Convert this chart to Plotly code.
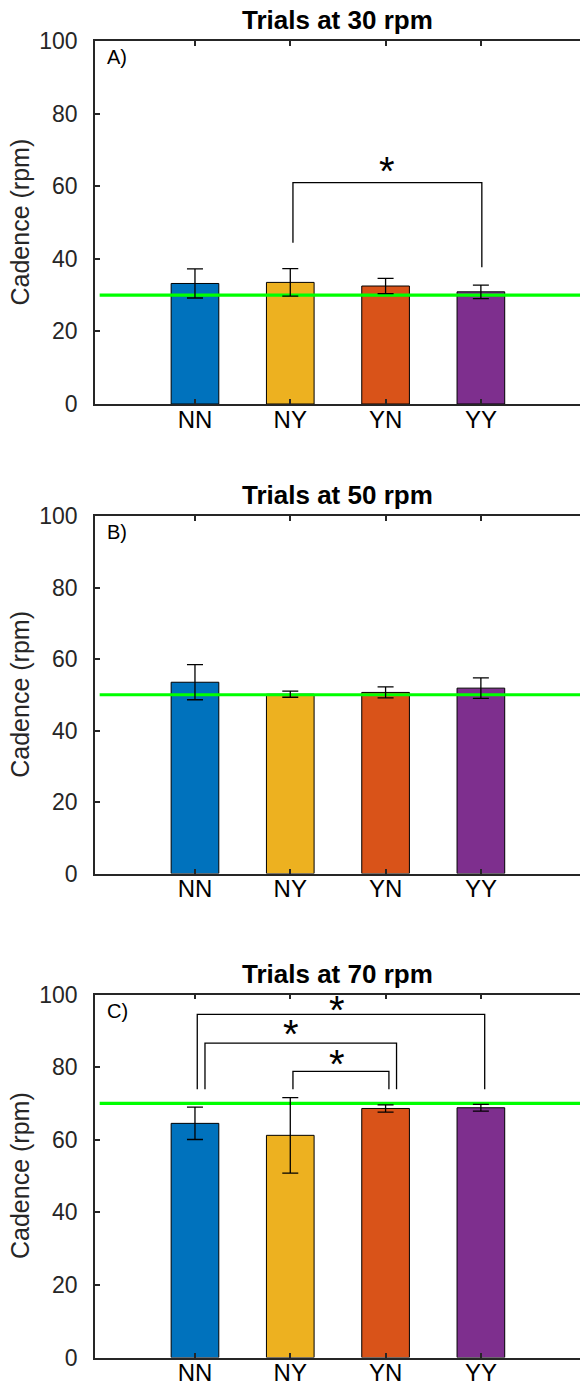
import plotly.graph_objects as go

# ---------------- data ----------------
categories = ["NN", "NY", "YN", "YY"]
bar_colors = ["#0072BD", "#EDB120", "#D95319", "#7E2F8E"]
panel_titles = ["Trials at 30 rpm", "Trials at 50 rpm", "Trials at 70 rpm"]
panel_letters = ["A)", "B)", "C)"]
target_rpm = [30, 50, 70]

means_30 = [33.2, 33.5, 32.5, 30.9]
sd_30 = [4.0, 3.8, 2.1, 1.85]
means_50 = [53.5, 50.15, 50.65, 51.85]
sd_50 = [4.9, 0.85, 1.55, 2.85]
means_70 = [64.5, 61.2, 68.6, 68.8]
sd_70 = [4.45, 10.4, 1.0, 0.95]

# significance brackets (panel index, leg x positions, bar height, leg ends, star position)
sig_panel = [0, 2, 2, 2]
sig_x_left = [2.028, 1.024, 1.105, 2.028]
sig_x_right = [4.01, 4.04, 3.115, 3.035]
sig_y_bar = [61.0, 94.5, 86.6, 78.8]
sig_y_left_end = [44.4, 73.9, 73.9, 73.9]
sig_y_right_end = [37.7, 73.9, 73.9, 73.9]
sig_star_x = [3.01, 2.49, 2.01, 2.49]
sig_star_y = [65.8, 97.3, 90.8, 82.5]

y_ticks = [0, 20, 40, 60, 80, 100]

means = [means_30, means_50, means_70]
sds = [sd_30, sd_50, sd_70]

# ---------------- layout geometry ----------------
W, H = 580, 1387
panel_px = [(41, 404), (516, 873.5), (994.5, 1357.5)]  # top, bottom in px
x_left_px = 95
positions = list(range(1, len(categories) + 1))
x_range = [-0.049, 5.04]

FONT = "Liberation Sans, Arial, sans-serif"
AX = "#262626"

fig = go.Figure()

for p in range(3):
    xa = "x" if p == 0 else f"x{p+1}"
    ya = "y" if p == 0 else f"y{p+1}"
    fig.add_trace(go.Bar(
        x=positions, y=means[p], width=0.5,
        marker=dict(color=bar_colors, line=dict(color="#000000", width=1)),
        xaxis=xa, yaxis=ya, showlegend=False,
    ))
    fig.add_trace(go.Scatter(
        x=[0, x_range[1] + 0.2], y=[target_rpm[p]] * 2, mode="lines",
        line=dict(color="#00FF00", width=3.2),
        xaxis=xa, yaxis=ya, showlegend=False,
    ))
    fig.add_trace(go.Scatter(
        x=positions, y=means[p], mode="markers",
        marker=dict(size=1, color="rgba(0,0,0,0)"),
        error_y=dict(type="data", array=sds[p], visible=True,
                     color="#000000", thickness=1.3, width=8),
        xaxis=xa, yaxis=ya, showlegend=False,
    ))

for k in range(len(sig_panel)):
    p = sig_panel[k]
    xa = "x" if p == 0 else f"x{p+1}"
    ya = "y" if p == 0 else f"y{p+1}"
    fig.add_trace(go.Scatter(
        x=[sig_x_left[k], sig_x_left[k], sig_x_right[k], sig_x_right[k]],
        y=[sig_y_left_end[k], sig_y_bar[k], sig_y_bar[k], sig_y_right_end[k]],
        mode="lines", line=dict(color="#000000", width=1.3),
        xaxis=xa, yaxis=ya, showlegend=False,
    ))
    fig.add_annotation(
        x=sig_star_x[k], y=sig_star_y[k], xref=xa, yref=ya,
        text="*", showarrow=False, yanchor="middle", xanchor="center",
        yshift=-6,
        font=dict(family=FONT, size=40, color="#000000"),
    )

layout = dict(
    width=W, height=H,
    margin=dict(l=0, r=0, t=0, b=0),
    paper_bgcolor="white", plot_bgcolor="white",
    showlegend=False,
)

for p in range(3):
    top, bot = panel_px[p]
    suffix = "" if p == 0 else str(p + 1)
    dom = [1 - bot / H, 1 - top / H]
    layout[f"xaxis{suffix}"] = dict(
        domain=[x_left_px / W, 1.0], range=x_range,
        anchor=f"y{suffix}",
        tickvals=positions, ticktext=categories,
        ticks="inside", ticklen=5, tickwidth=1.5, tickcolor=AX,
        showline=True, linecolor=AX, linewidth=1.5, mirror="ticks",
        showgrid=False, zeroline=False,
        tickfont=dict(family=FONT, size=24, color="#000000"),
        ticklabelstandoff=-7,
        automargin=False, fixedrange=True,
    )
    layout[f"yaxis{suffix}"] = dict(
        domain=dom, range=[0, 100],
        anchor=f"x{suffix}",
        tickvals=y_ticks,
        ticks="inside", ticklen=5, tickwidth=1.5, tickcolor=AX,
        showline=True, linecolor=AX, linewidth=1.5, mirror=False,
        showgrid=False, zeroline=False,
        tickfont=dict(family=FONT, size=23, color=AX),
        ticklabelstandoff=11,
        automargin=False, fixedrange=True,
    )
    # right-hand tick stubs (axis line itself lies beyond the picture edge)
    layout[f"yaxis{p + 4}"] = dict(
        domain=dom, range=[0, 100], overlaying=f"y{suffix}",
        side="right", anchor="free", position=1.0,
        tickvals=y_ticks, showticklabels=False,
        ticks="inside", ticklen=4, tickwidth=1.5, tickcolor=AX,
        showline=False, showgrid=False, zeroline=False,
        automargin=False, fixedrange=True,
    )

fig.update_layout(**layout)

for p in range(3):
    top, bot = panel_px[p]
    # title
    fig.add_annotation(
        x=(x_left_px + W) / 2 / W, y=1 - (top - 21) / H, xref="paper", yref="paper",
        text=f"<b>{panel_titles[p]}</b>", showarrow=False,
        xanchor="center", yanchor="middle",
        font=dict(family=FONT, size=26, color="#000000"),
    )
    # panel letter
    fig.add_annotation(
        x=(x_left_px + 10) / W, y=1 - (top + 3) / H, xref="paper", yref="paper",
        text=panel_letters[p], showarrow=False,
        xanchor="left", yanchor="top",
        font=dict(family=FONT, size=20, color="#000000"),
    )
    # y-axis label
    fig.add_annotation(
        x=20 / W, y=1 - (top + bot) / 2 / H, xref="paper", yref="paper",
        text="Cadence (rpm)", showarrow=False, textangle=-90,
        xanchor="center", yanchor="middle",
        font=dict(family=FONT, size=25, color=AX),
    )

fig.write_html("out.html", config={"displayModeBar": False},
               post_script="document.body.style.margin='0px';")
